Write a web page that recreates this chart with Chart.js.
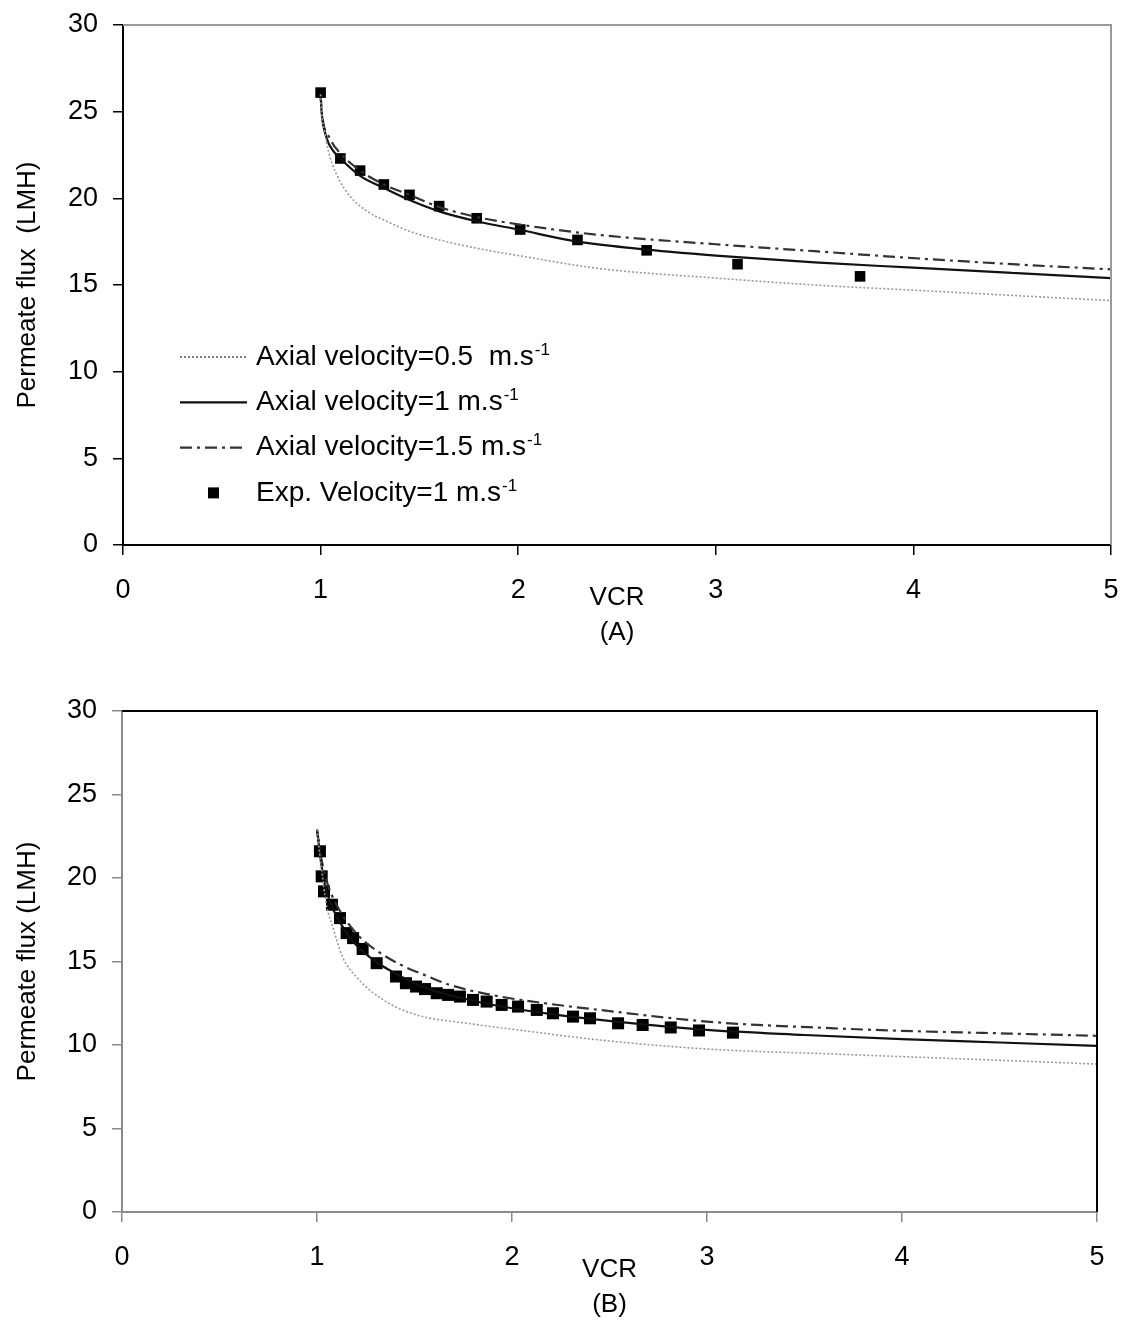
<!DOCTYPE html>
<html>
<head>
<meta charset="utf-8">
<title>Permeate flux vs VCR</title>
<script src="https://cdn.jsdelivr.net/npm/chart.js@4.4.0/dist/chart.umd.min.js"></script>
<style>
  body { margin: 0; background: #fff; }
  .panel { position: absolute; left: 0; width: 1124px; }
  #panelA { top: 0; height: 660px; }
  #panelB { top: 686px; height: 636px; }
</style>
</head>
<body>
<div class="panel" id="panelA"><canvas id="chartA"></canvas></div>
<div class="panel" id="panelB"><canvas id="chartB"></canvas></div>
<script>
// axis ticks
const xTicks = [0, 1, 2, 3, 4, 5];
const yTicks = [0, 5, 10, 15, 20, 25, 30];

const seriesLabels = ['Axial velocity=0.5  m.s', 'Axial velocity=1 m.s', 'Axial velocity=1.5 m.s', 'Exp. Velocity=1 m.s'];
const unitPower = '-1';

// (A) model curves and measurements
const vcrA05 = [1.0, 1.005, 1.02, 1.04, 1.08, 1.15, 1.25, 1.32, 1.45, 1.6, 1.8, 2.0, 2.41, 3.0, 3.5, 4.0, 4.5, 5.0];
const fluxA05 = [26.0, 25.0, 23.9, 22.7, 21.4, 20.1, 19.15, 18.75, 18.1, 17.6, 17.1, 16.7, 15.95, 15.4, 15.0, 14.7, 14.4, 14.1];
const vcrA10 = [1.0, 1.005, 1.03, 1.06, 1.1, 1.2, 1.32, 1.45, 1.6, 1.8, 2.0, 2.3, 2.6, 3.0, 3.5, 4.0, 4.5, 5.0];
const fluxA10 = [26.0, 25.0, 23.5, 22.8, 22.3, 21.3, 20.6, 19.9, 19.25, 18.65, 18.2, 17.5, 17.1, 16.7, 16.3, 16.0, 15.7, 15.4];
const vcrA15 = [1.0, 1.005, 1.05, 1.1, 1.2, 1.32, 1.45, 1.6, 1.8, 2.0, 2.4, 3.0, 3.5, 4.0, 4.5, 5.0];
const fluxA15 = [26.0, 25.1, 23.4, 22.6, 21.6, 20.8, 20.2, 19.5, 18.9, 18.5, 17.9, 17.35, 16.95, 16.55, 16.2, 15.9];
const vcrAExp = [1.0, 1.1, 1.2, 1.32, 1.45, 1.6, 1.79, 2.01, 2.30, 2.65, 3.11, 3.73];
const fluxAExp = [26.1, 22.3, 21.6, 20.8, 20.2, 19.55, 18.85, 18.2, 17.6, 17.0, 16.2, 15.5];

// (B) model curves and measurements
const vcrB05 = [1.0, 1.02, 1.05, 1.08, 1.13, 1.2, 1.34, 1.51, 1.77, 2.0, 2.45, 3.0, 3.65, 4.33, 5.0];
const fluxB05 = [22.9, 20.8, 18.3, 17.1, 15.3, 14.1, 12.7, 11.8, 11.3, 10.95, 10.3, 9.76, 9.46, 9.16, 8.86];
const vcrB10 = [1.0, 1.02, 1.04, 1.08, 1.12, 1.2, 1.3, 1.4, 1.5, 1.6, 1.8, 2.0, 2.2, 2.45, 3.0, 3.5, 4.0, 4.5, 5.0];
const fluxB10 = [22.9, 21.0, 19.6, 18.2, 17.3, 16.0, 15.0, 14.3, 13.7, 13.25, 12.65, 12.2, 11.85, 11.5, 10.9, 10.6, 10.35, 10.15, 9.95];
const vcrB15 = [1.0, 1.02, 1.05, 1.1, 1.2, 1.3, 1.43, 1.55, 1.68, 1.94, 2.2, 2.45, 3.0, 3.65, 4.0, 4.5, 5.0];
const fluxB15 = [22.9, 21.3, 19.8, 18.4, 16.7, 15.7, 14.8, 14.2, 13.6, 12.9, 12.45, 12.1, 11.4, 11.0, 10.85, 10.7, 10.55];
const vcrBExp = [1.015, 1.024, 1.036, 1.077, 1.118, 1.152, 1.185, 1.234, 1.306, 1.405, 1.456, 1.508, 1.554, 1.614, 1.672, 1.733, 1.8, 1.87, 1.947, 2.031, 2.127, 2.21, 2.313, 2.4, 2.544, 2.67, 2.814, 2.959, 3.133];
const fluxBExp = [21.6, 20.1, 19.2, 18.4, 17.6, 16.7, 16.4, 15.75, 14.9, 14.1, 13.7, 13.5, 13.35, 13.1, 13.0, 12.9, 12.7, 12.6, 12.4, 12.3, 12.1, 11.9, 11.7, 11.6, 11.3, 11.2, 11.05, 10.87, 10.74];

const FONT = "'Liberation Sans', Arial, sans-serif";

function pts(xs, ys) {
  return xs.map((x, i) => ({ x: x, y: ys[i] }));
}

function makeDatasets(c05, c10, c15, exp, markerR) {
  return [
    { label: seriesLabels[0], data: c05, showLine: true, pointRadius: 0, borderColor: '#9a9a9a',
      borderWidth: 1.6, borderDash: [2, 2], cubicInterpolationMode: 'monotone', legendColor: '#555' },
    { label: seriesLabels[1], data: c10, showLine: true, pointRadius: 0, borderColor: '#111',
      borderWidth: 2.2, cubicInterpolationMode: 'monotone' },
    { label: seriesLabels[2], data: c15, showLine: true, pointRadius: 0, borderColor: '#333',
      borderWidth: 2.2, borderDash: [12, 5, 3, 5], cubicInterpolationMode: 'monotone' },
    { label: seriesLabels[3], data: exp, showLine: false, pointStyle: 'rect', pointRadius: markerR,
      backgroundColor: '#000', borderColor: '#000', borderWidth: 0 }
  ];
}

// plot frame on the top/right edges, in-plot legend
const panelDecor = {
  id: 'panelDecor',
  afterDraw(chart, args, o) {
    const { ctx, chartArea: a } = chart;
    ctx.save();
    ctx.strokeStyle = o.frameColor;
    ctx.lineWidth = 2;
    ctx.beginPath();
    ctx.moveTo(a.left, a.top);
    ctx.lineTo(a.right, a.top);
    ctx.lineTo(a.right, a.bottom);
    ctx.stroke();

    chart.data.datasets.forEach((ds, i) => {
      const y = o.legendY + i * o.rowGap;
      if (ds.showLine) {
        ctx.strokeStyle = ds.legendColor || ds.borderColor;
        ctx.lineWidth = ds.borderWidth;
        ctx.setLineDash(ds.borderDash || []);
        ctx.beginPath();
        ctx.moveTo(o.legendX, y);
        ctx.lineTo(o.legendX + 67, y);
        ctx.stroke();
        ctx.setLineDash([]);
      } else {
        ctx.fillStyle = '#000';
        ctx.fillRect(o.legendX + 28, y - 5.5, 11, 11);
      }
      ctx.fillStyle = '#000';
      ctx.textBaseline = 'middle';
      ctx.textAlign = 'left';
      ctx.font = '28px ' + FONT;
      const tx = o.legendX + 76;
      ctx.fillText(ds.label, tx, y);
      const w = ctx.measureText(ds.label).width;
      ctx.font = '17px ' + FONT;
      ctx.fillText(unitPower, tx + w + 1, y - 7);
    });
    ctx.restore();
  }
};

function makeChart(id, datasets, cfg) {
  return new Chart(document.getElementById(id), {
    type: 'scatter',
    data: { datasets: datasets },
    plugins: [panelDecor],
    options: {
      responsive: true,
      maintainAspectRatio: false,
      animation: false,
      layout: { padding: { top: 25, right: cfg.padRight, left: 0, bottom: 0 } },
      plugins: {
        legend: { display: false },
        tooltip: { enabled: false },
        panelDecor: cfg.decor
      },
      scales: {
        x: {
          type: 'linear', min: 0, max: 5,
          afterBuildTicks: s => { s.ticks = xTicks.map(v => ({ value: v })); },
          afterFit: s => { s.height = cfg.xHeight; s.paddingLeft = 0; s.paddingRight = 0; },
          border: { color: cfg.axisColor, width: 2 },
          grid: { drawOnChartArea: false, drawTicks: true, tickLength: 10, color: cfg.axisColor, lineWidth: 1.5 },
          ticks: { color: '#000', padding: 19, font: { family: FONT, size: 27 } },
          title: { display: true, text: ['VCR', cfg.caption], color: '#000',
                   font: { family: FONT, size: 26, lineHeight: 1.35 }, padding: { top: 0, bottom: cfg.titlePad } }
        },
        y: {
          type: 'linear', min: 0, max: 30,
          afterBuildTicks: s => { s.ticks = yTicks.map(v => ({ value: v })); },
          afterFit: s => { s.width = cfg.yWidth; s.paddingTop = 0; s.paddingBottom = 0; },
          border: { color: cfg.axisColor, width: 2 },
          grid: { drawOnChartArea: false, drawTicks: true, tickLength: 10, color: cfg.axisColor, lineWidth: 1.5 },
          ticks: { color: '#000', padding: 15, font: { family: FONT, size: 27 } },
          title: { display: true, text: cfg.yTitle, color: '#000',
                   font: { family: FONT, size: 26 }, padding: { top: 12, bottom: 0 } }
        }
      }
    }
  });
}

makeChart('chartA',
  makeDatasets(pts(vcrA05, fluxA05), pts(vcrA10, fluxA10), pts(vcrA15, fluxA15), pts(vcrAExp, fluxAExp), 7.5),
  { padRight: 13, xHeight: 115, yWidth: 123, axisColor: '#000', caption: '(A)', titlePad: 10,
    yTitle: 'Permeate flux  (LMH)',
    decor: { frameColor: '#9a9a9a', legendX: 180, legendY: 357, rowGap: 45.3 } });

makeChart('chartB',
  makeDatasets(pts(vcrB05, fluxB05), pts(vcrB10, fluxB10), pts(vcrB15, fluxB15), pts(vcrBExp, fluxBExp), 8.5),
  { padRight: 27, xHeight: 110, yWidth: 122, axisColor: '#8a8a8a', caption: '(B)', titlePad: 0,
    yTitle: 'Permeate flux (LMH)',
    decor: { frameColor: '#000', legendX: 628, legendY: 782, rowGap: 45.3 } });
</script>
</body>
</html>
